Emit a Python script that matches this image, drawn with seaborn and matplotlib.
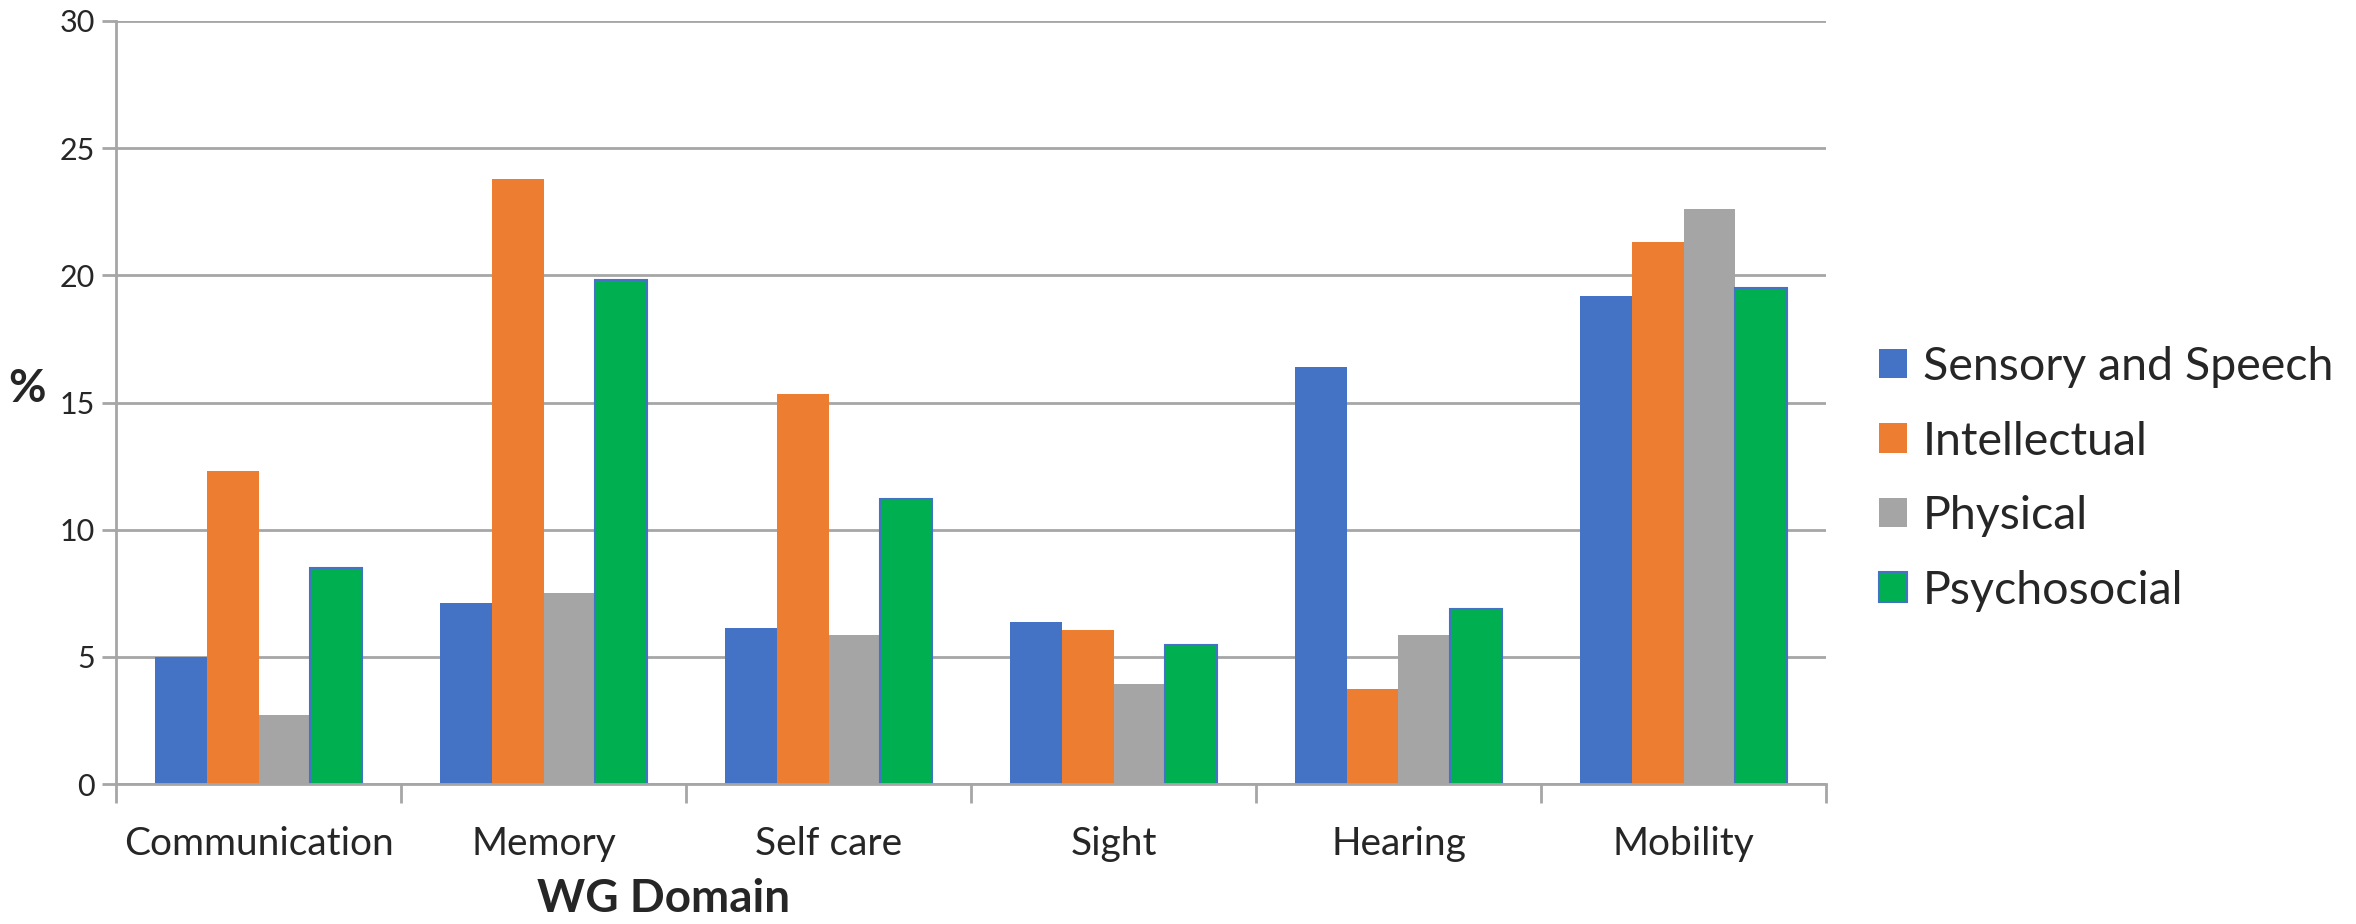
import matplotlib
matplotlib.use("Agg")
import matplotlib.pyplot as plt
import seaborn as sns
import pandas as pd
from matplotlib.patches import Patch

domains = ["Communication", "Memory", "Self care", "Sight", "Hearing", "Mobility"]
groups = ["Sensory and Speech", "Intellectual", "Physical", "Psychosocial"]
sensory = [5.0, 7.1, 6.15, 6.35, 16.4, 19.2]
intellectual = [12.3, 23.8, 15.35, 6.05, 3.75, 21.3]
physical = [2.7, 7.5, 5.85, 3.95, 5.85, 22.6]
psychosocial = [8.5, 19.8, 11.2, 5.45, 6.9, 19.5]
colors = ["#4472C4", "#ED7D31", "#A5A5A5", "#00B050"]
yticks = [0, 5, 10, 15, 20, 25, 30]

rows = []
for g, vals in zip(groups, [sensory, intellectual, physical, psychosocial]):
    for d, v in zip(domains, vals):
        rows.append({"domain": d, "group": g, "value": v})
df = pd.DataFrame(rows)

sns.set_style("white")
plt.rcParams["font.family"] = ["Lato", "DejaVu Sans"]

fig = plt.figure(figsize=(23.56, 9.24), dpi=100)
ax = fig.add_axes([116/2356, 1 - 784/924, (1826-116)/2356, (784-21)/924])

sns.barplot(data=df, x="domain", y="value", hue="group", order=domains,
            hue_order=groups, palette=colors, saturation=1, width=0.727,
            dodge=True, ax=ax, legend=False, linewidth=0)
for bar in ax.containers[3]:
    bar.set_edgecolor("#4472C4")
    bar.set_linewidth(1.5)

ax.set_ylim(0, 30)
ax.set_xlim(-0.5, len(domains) - 0.5)
ax.set_yticks(yticks)
ax.set_yticklabels([str(t) for t in yticks], fontsize=22)
ax.yaxis.grid(True, color="#A6A6A6", linewidth=2)
ax.set_axisbelow(True)
for s in ["top", "right"]:
    ax.spines[s].set_visible(False)
for s in ["left", "bottom"]:
    ax.spines[s].set_color("#A6A6A6")
    ax.spines[s].set_linewidth(2)
ax.tick_params(axis="y", length=10, width=2, color="#A6A6A6", pad=5, direction="out", left=True)

# category labels (no ticks) + boundary ticks
ax.set_xticks(range(len(domains)))
ax.set_xticklabels(domains, fontsize=28)
ax.tick_params(axis="x", length=0, pad=30)
ax.set_xticks([i - 0.5 for i in range(len(domains) + 1)], minor=True)
ax.tick_params(axis="x", which="minor", length=14, width=2, color="#A6A6A6", direction="out", bottom=True)

ax.set_xlabel("WG Domain", fontsize=33, fontweight="bold")
ax.xaxis.set_label_coords(0.32, -0.123)
ax.set_ylabel("%", fontsize=33, fontweight="bold", rotation=0)
ax.yaxis.set_label_coords(-0.052, 0.49)

handles = [Patch(facecolor=c, edgecolor=("#4472C4" if i == 3 else c), linewidth=1.5 if i == 3 else 0)
           for i, c in enumerate(colors)]
ax.legend(handles, groups, loc="center left", bbox_to_anchor=(1.02, 0.40), frameon=False,
          fontsize=33.5, handlelength=0.6, handleheight=0.6, handletextpad=0.35, labelspacing=0.7,
          borderaxespad=0)

fig.savefig("out.png", dpi=100)
